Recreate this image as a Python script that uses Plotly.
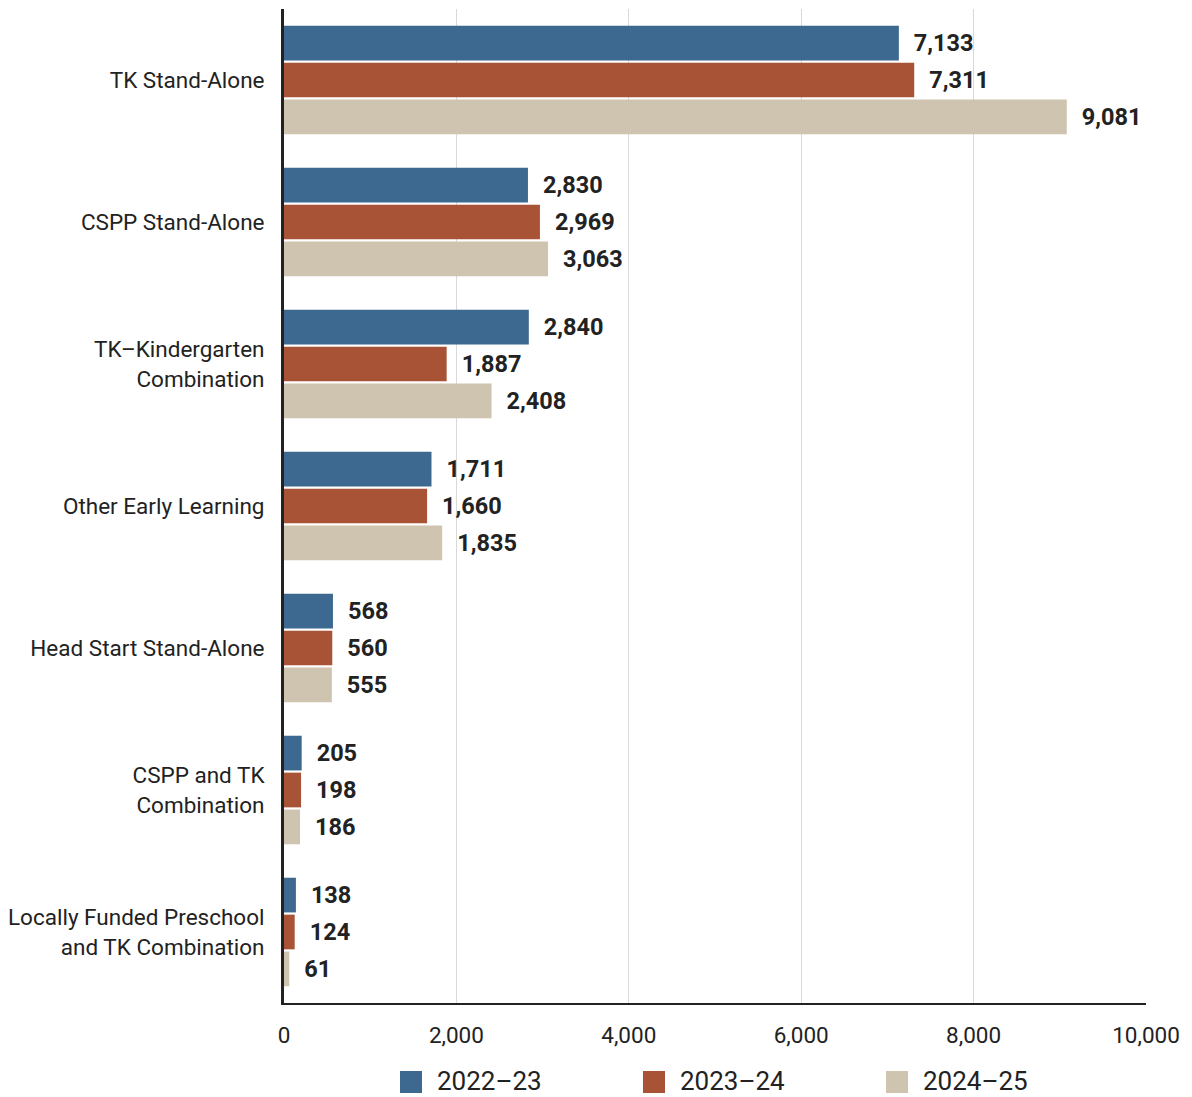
import plotly.graph_objects as go

categories = [
    "TK Stand-Alone",
    "CSPP Stand-Alone",
    "TK\u2013Kindergarten<br>Combination",
    "Other Early Learning",
    "Head Start Stand-Alone",
    "CSPP and TK<br>Combination",
    "Locally Funded Preschool<br>and TK Combination",
]
years = ["2022\u201323", "2023\u201324", "2024\u201325"]
values_2022 = [7133, 2830, 2840, 1711, 568, 205, 138]
values_2023 = [7311, 2969, 1887, 1660, 560, 198, 124]
values_2024 = [9081, 3063, 2408, 1835, 555, 186, 61]
colors = ["#3d6990", "#a85236", "#cfc4b0"]

FONT = "Roboto"
W, H = 1192, 1097
M_L, M_R, M_T, M_B = 284, 46, 9, 94
PW, PH = W - M_L - M_R, H - M_T - M_B

fig = go.Figure()
for name, vals, col in zip(years, [values_2022, values_2023, values_2024], colors):
    fig.add_trace(go.Bar(
        y=categories, x=vals, name=name, orientation="h",
        marker=dict(color=col, line=dict(width=0)),
        text=[f"\u2002{v:,}" for v in vals],
        textposition="outside",
        textfont=dict(family=FONT, size=23.5, color="#222222", weight="bold"),
        cliponaxis=False,
        showlegend=False,
    ))

# bottom legend: square swatch + label per year
def px_x(p):
    return (p - M_L) / PW

def px_y(p):
    return (H - M_B - p) / PH

shapes, annotations = [], []
swatch_left = [400, 643, 886]
for left, name, col in zip(swatch_left, years, colors):
    shapes.append(dict(
        type="rect", xref="paper", yref="paper",
        x0=px_x(left), x1=px_x(left + 22), y0=px_y(1093), y1=px_y(1071),
        fillcolor=col, line=dict(width=0),
    ))
    annotations.append(dict(
        xref="paper", yref="paper", x=px_x(left + 36), y=px_y(1081),
        xanchor="left", yanchor="middle", text=name, showarrow=False,
        borderpad=0,
        font=dict(family=FONT, size=26, color="#222222"),
    ))

fig.update_layout(
    barmode="group",
    bargap=0.22,
    bargroupgap=0.06,
    width=W, height=H,
    margin=dict(l=M_L, r=M_R, t=M_T, b=M_B),
    plot_bgcolor="white", paper_bgcolor="white",
    font=dict(family=FONT, size=22, color="#222222"),
    showlegend=False,
    shapes=shapes,
    annotations=annotations,
    xaxis=dict(
        range=[0, 10000], dtick=2000, tickformat=",",
        showgrid=True, gridcolor="#d9d9d9", gridwidth=1,
        showline=True, linecolor="#222222", linewidth=2,
        ticks="", ticklen=0, zeroline=False,
        tickfont=dict(size=22.5), automargin=False,
        ticklabelstandoff=11,
    ),
    yaxis=dict(
        autorange="reversed",
        showline=True, linecolor="#222222", linewidth=3,
        ticks="", ticklabelstandoff=12, automargin=False,
        tickfont=dict(size=22.5),
    ),
)

fig.write_html("out.html")
